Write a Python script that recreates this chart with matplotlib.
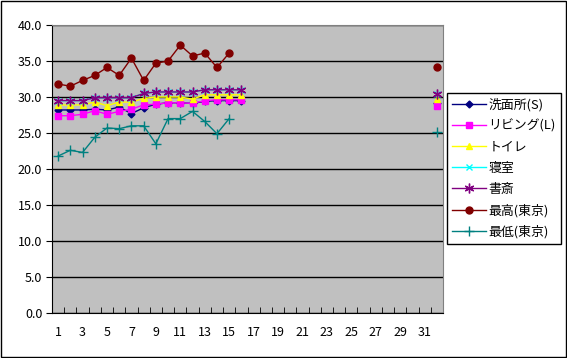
import matplotlib
matplotlib.use("Agg")
import matplotlib.pyplot as plt
from matplotlib.patches import Rectangle
import numpy as np

plt.rcParams['font.family'] = ['Noto Sans CJK JP', 'DejaVu Sans']
plt.rcParams['font.size'] = 9

nan = np.nan
days = list(range(1, 33))
tick_days = list(range(1, 32, 2))

# values per day (1..31 + one extra point at the end)
senmenjo = [28.2, 28.2, 28.2, 28.3, 28.2, 28.6, 27.7, 28.5, 29.0, 29.2, 29.2, 29.1, 29.4, 29.5, 29.5, 29.5] + [nan] * 15 + [29.2]
living = [27.4, 27.4, 27.6, 28.1, 27.6, 28.0, 28.3, 28.9, 29.0, 29.2, 29.2, 29.1, 29.5, 29.6, 29.6, 29.6] + [nan] * 15 + [28.7]
toilet = [28.9, 28.9, 28.9, 29.3, 28.8, 29.3, 29.3, 29.8, 30.0, 30.0, 30.0, 29.7, 30.3, 30.3, 30.3, 30.3] + [nan] * 15 + [29.7]
shinshitsu = [29.5, 29.5, 29.5, 29.9, 29.9, 29.9, 29.9, 30.5, 30.7, 30.7, 30.7, 30.7, 31.0, 31.0, 31.0, 31.0] + [nan] * 15 + [30.4]
shosai = [29.5, 29.5, 29.5, 29.9, 29.9, 29.9, 29.9, 30.5, 30.7, 30.7, 30.7, 30.7, 31.0, 31.0, 31.0, 31.0] + [nan] * 15 + [30.4]
tokyo_max = [31.8, 31.5, 32.3, 33.0, 34.1, 33.0, 35.4, 32.3, 34.7, 35.0, 37.2, 35.7, 36.1, 34.1, 36.1] + [nan] * 16 + [34.1]
tokyo_min = [21.8, 22.6, 22.3, 24.4, 25.7, 25.6, 26.0, 26.0, 23.5, 27.0, 27.0, 28.0, 26.6, 24.9, 27.0] + [nan] * 16 + [25.2]

series = [
    ("洗面所(S)", senmenjo, "#000080", "D", 3.5),
    ("リビング(L)", living, "#FF00FF", "s", 5),
    ("トイレ", toilet, "#FFFF00", "^", 5),
    ("寝室", shinshitsu, "#00FFFF", "x", 5),
    ("書斎", shosai, "#800080", (6, 2, 0), 7),
    ("最高(東京)", tokyo_max, "#800000", "o", 5),
    ("最低(東京)", tokyo_min, "#008080", "+", 7),
]

fig = plt.figure(figsize=(5.67, 3.58), dpi=100)
ax = fig.add_axes([52 / 567, 1 - 313 / 358, 391 / 567, 288 / 358])
ax.set_facecolor("#C0C0C0")

for name, vals, col, mk, ms in series:
    ax.plot(days, vals, color=col, marker=mk, markersize=ms, linewidth=1,
            markeredgewidth=1, markeredgecolor=col, label=name)

ax.set_ylim(0, 40)
ax.set_yticks(np.arange(0, 41, 5))
ax.set_yticklabels(["%.1f" % v for v in np.arange(0, 41, 5)])
ax.yaxis.grid(True, color="black", linewidth=1)
ax.set_axisbelow(True)

ax.set_xlim(0.5, 32.5)
ax.set_xticks(tick_days)
ax.set_xticklabels([str(d) for d in tick_days])
ax.set_xticks(np.arange(0.5, 33, 1), minor=True)
ax.tick_params(axis="x", which="major", length=0, pad=9)
ax.tick_params(axis="x", which="minor", direction="in", length=4, color="black")
ax.tick_params(axis="y", direction="out", length=4, pad=3)

for s in ["top", "right"]:
    ax.spines[s].set_color("#808080")
ax.spines["left"].set_color("black")
ax.spines["bottom"].set_color("black")

leg = ax.legend(loc="upper left", bbox_to_anchor=(447 / 567, 1 - 93 / 358),
                bbox_transform=fig.transFigure, frameon=True, fancybox=False,
                edgecolor="black", framealpha=1, fontsize=9.3, handlelength=2.6,
                labelspacing=0.62, borderpad=0.4, handletextpad=0.2, borderaxespad=0)
leg.get_frame().set_linewidth(1)

fig.patches.append(Rectangle((0.001, 0.002), 0.997, 0.995, transform=fig.transFigure,
                             fill=False, edgecolor="black", linewidth=1))

fig.savefig("out.png", dpi=100)
